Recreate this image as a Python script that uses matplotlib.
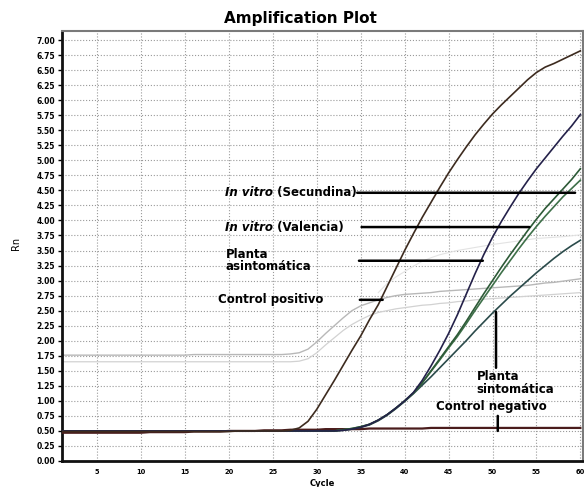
import matplotlib
matplotlib.use("Agg")
import matplotlib.pyplot as plt
import numpy as np

# Amplification plot (qPCR)
cycles = np.arange(1, 61)

# in vitro (Secundina) - earliest curve, dark brown
secundina = [0.49, 0.49, 0.49, 0.49, 0.49, 0.49, 0.49, 0.49, 0.49, 0.49,
             0.49, 0.49, 0.49, 0.49, 0.49, 0.49, 0.49, 0.49, 0.49, 0.49,
             0.50, 0.50, 0.50, 0.50, 0.50, 0.50, 0.51, 0.55, 0.66, 0.86,
             1.10, 1.34, 1.59, 1.84, 2.08, 2.35, 2.60, 2.90, 3.20, 3.50,
             3.78, 4.05, 4.30, 4.55, 4.79, 5.01, 5.22, 5.42, 5.60, 5.77,
             5.92, 6.06, 6.20, 6.34, 6.46, 6.55, 6.61, 6.68, 6.75, 6.82]

# in vitro (Valencia) - navy
valencia = [0.50, 0.50, 0.50, 0.50, 0.50, 0.50, 0.50, 0.50, 0.50, 0.50,
            0.50, 0.50, 0.50, 0.50, 0.50, 0.50, 0.50, 0.50, 0.50, 0.50,
            0.50, 0.50, 0.50, 0.50, 0.50, 0.50, 0.50, 0.50, 0.50, 0.50,
            0.50, 0.50, 0.51, 0.53, 0.56, 0.61, 0.68, 0.77, 0.88, 1.00,
            1.14, 1.34, 1.58, 1.84, 2.12, 2.43, 2.77, 3.11, 3.43, 3.72,
            3.98, 4.22, 4.45, 4.66, 4.86, 5.04, 5.22, 5.40, 5.57, 5.76]

# planta asintomatica - two green curves
asint_a = [0.50, 0.50, 0.50, 0.50, 0.50, 0.50, 0.50, 0.50, 0.50, 0.50,
           0.50, 0.50, 0.50, 0.50, 0.50, 0.50, 0.50, 0.50, 0.50, 0.50,
           0.50, 0.50, 0.50, 0.50, 0.50, 0.50, 0.50, 0.50, 0.50, 0.50,
           0.50, 0.50, 0.52, 0.54, 0.57, 0.61, 0.68, 0.77, 0.88, 1.00,
           1.13, 1.30, 1.50, 1.70, 1.90, 2.10, 2.32, 2.55, 2.78, 3.00,
           3.22, 3.43, 3.63, 3.83, 4.02, 4.20, 4.36, 4.52, 4.68, 4.86]
asint_b = [0.50, 0.50, 0.50, 0.50, 0.50, 0.50, 0.50, 0.50, 0.50, 0.50,
           0.50, 0.50, 0.50, 0.50, 0.50, 0.50, 0.50, 0.50, 0.50, 0.50,
           0.50, 0.50, 0.50, 0.50, 0.50, 0.50, 0.50, 0.50, 0.50, 0.50,
           0.50, 0.50, 0.52, 0.54, 0.57, 0.61, 0.68, 0.77, 0.88, 1.00,
           1.13, 1.30, 1.49, 1.68, 1.88, 2.07, 2.28, 2.50, 2.71, 2.92,
           3.13, 3.33, 3.53, 3.72, 3.90, 4.07, 4.23, 4.39, 4.53, 4.67]

# planta sintomatica - dark teal
sint = [0.50, 0.50, 0.50, 0.50, 0.50, 0.50, 0.50, 0.50, 0.50, 0.50,
        0.50, 0.50, 0.50, 0.50, 0.50, 0.50, 0.50, 0.50, 0.50, 0.50,
        0.50, 0.50, 0.50, 0.50, 0.50, 0.50, 0.50, 0.50, 0.50, 0.50,
        0.50, 0.50, 0.51, 0.53, 0.56, 0.60, 0.67, 0.76, 0.87, 0.99,
        1.12, 1.26, 1.40, 1.55, 1.70, 1.85, 2.00, 2.16, 2.31, 2.46,
        2.60, 2.74, 2.87, 3.00, 3.13, 3.25, 3.37, 3.48, 3.58, 3.67]

# control negativo - flat
negativo = [0.47, 0.47, 0.47, 0.47, 0.47, 0.47, 0.47, 0.47, 0.47, 0.47,
            0.48, 0.48, 0.48, 0.48, 0.48, 0.49, 0.49, 0.49, 0.49, 0.50,
            0.50, 0.50, 0.50, 0.51, 0.51, 0.51, 0.52, 0.52, 0.52, 0.52,
            0.53, 0.53, 0.53, 0.53, 0.53, 0.54, 0.54, 0.54, 0.54, 0.54,
            0.54, 0.54, 0.55, 0.55, 0.55, 0.55, 0.55, 0.55, 0.55, 0.55,
            0.55, 0.55, 0.55, 0.55, 0.55, 0.55, 0.55, 0.55, 0.55, 0.55]

# faint grey curves (control positivo overlay)
grey_a = [1.76, 1.76, 1.76, 1.76, 1.76, 1.76, 1.76, 1.76, 1.76, 1.76,
          1.76, 1.76, 1.76, 1.76, 1.76, 1.77, 1.77, 1.77, 1.77, 1.77,
          1.77, 1.77, 1.77, 1.77, 1.77, 1.77, 1.78, 1.80, 1.86, 1.98,
          2.12, 2.25, 2.38, 2.50, 2.58, 2.63, 2.68, 2.72, 2.75, 2.77,
          2.78, 2.79, 2.80, 2.82, 2.83, 2.84, 2.85, 2.86, 2.87, 2.88,
          2.89, 2.90, 2.91, 2.92, 2.94, 2.96, 2.97, 2.99, 3.01, 3.03]
grey_b = [1.65, 1.65, 1.65, 1.65, 1.65, 1.65, 1.65, 1.65, 1.65, 1.65,
          1.65, 1.65, 1.65, 1.65, 1.65, 1.65, 1.65, 1.65, 1.65, 1.65,
          1.65, 1.65, 1.65, 1.65, 1.65, 1.65, 1.65, 1.66, 1.70, 1.80,
          1.93, 2.05, 2.17, 2.27, 2.35, 2.42, 2.47, 2.50, 2.53, 2.55,
          2.57, 2.59, 2.60, 2.62, 2.63, 2.65, 2.66, 2.68, 2.69, 2.70,
          2.71, 2.72, 2.73, 2.74, 2.75, 2.76, 2.77, 2.78, 2.79, 2.80]
grey_c_cycles = [37, 38, 39, 40, 41, 42, 43, 44, 46, 48, 50, 52, 55, 58, 60]
grey_c = [2.80, 2.95, 3.06, 3.15, 3.24, 3.32, 3.38, 3.43, 3.50, 3.55,
          3.60, 3.64, 3.70, 3.73, 3.76]

fig = plt.figure(figsize=(5.84, 4.87), dpi=100)
fig.patch.set_facecolor("white")
ax = fig.add_axes([62 / 584, 26 / 487, 521 / 584, 430 / 487])

ax.plot(cycles, grey_a, color="#b8b8b8", lw=1.0, zorder=2)
ax.plot(cycles, grey_b, color="#d2d2d2", lw=0.9, zorder=2)
ax.plot(grey_c_cycles, grey_c, color="#e3e3e3", lw=0.8, zorder=2)

ax.plot(cycles, negativo, color="#4a1c1c", lw=1.6, zorder=3)
ax.plot(cycles, sint, color="#2b4b4b", lw=1.2, zorder=4)
ax.plot(cycles, asint_b, color="#3e7049", lw=1.2, zorder=4)
ax.plot(cycles, asint_a, color="#2d5a37", lw=1.2, zorder=4)
ax.plot(cycles, valencia, color="#24214a", lw=1.2, zorder=4)
ax.plot(cycles, secundina, color="#3d2b1f", lw=1.2, zorder=5)

ax.set_xlim(1, 60.3)
ax.set_ylim(0, 7.15)

yticks = np.arange(0, 7.01, 0.25)
ax.set_yticks(yticks)
ax.set_yticklabels([f"{v:.2f}" for v in yticks], fontsize=5.5, fontweight="bold")
ax.set_xticks(np.arange(5, 61, 5))
ax.set_xticklabels([str(v) for v in range(5, 61, 5)], fontsize=4.8, fontweight="bold")
ax.tick_params(axis="y", length=3, width=1, pad=2)
ax.tick_params(axis="x", length=0, pad=6)

ax.grid(True, linestyle=":", color="#9a9a9a", lw=0.8)
ax.set_axisbelow(True)

for side in ["left", "bottom"]:
    ax.spines[side].set_linewidth(2)
    ax.spines[side].set_color("#111111")
for side in ["top", "right"]:
    ax.spines[side].set_linewidth(1.5)
    ax.spines[side].set_color("#7a7a7a")

fig.text(0.514, 0.962, "Amplification Plot", fontsize=11, fontweight="bold",
         ha="center", va="center")
ax.set_xlabel("Cycle", fontsize=6, fontweight="bold", labelpad=3)
ax.set_ylabel("Rn", fontsize=7)
ax.yaxis.set_label_coords(-0.079, 0.507)

# labels with leader lines
fs = 8.5
t1 = ax.text(19.6, 4.46, "In vitro", fontsize=fs, fontweight="bold",
             fontstyle="italic", va="center", zorder=6)
ax.annotate(" (Secundina)", xy=(1, 0), xycoords=t1, va="bottom",
            fontsize=fs, fontweight="bold", zorder=6)
t2 = ax.text(19.6, 3.89, "In vitro", fontsize=fs, fontweight="bold",
             fontstyle="italic", va="center", zorder=6)
ax.annotate(" (Valencia)", xy=(1, 0), xycoords=t2, va="bottom",
            fontsize=fs, fontweight="bold", zorder=6)
ax.text(19.6, 3.33, "Planta\nasintomática", fontsize=fs, fontweight="bold",
        va="center", linespacing=0.95, zorder=6)
ax.text(18.7, 2.68, "Control positivo", fontsize=fs, fontweight="bold",
        va="center", zorder=6)
ax.text(48.2, 1.30, "Planta\nsintomática", fontsize=fs, fontweight="bold",
        va="center", linespacing=0.95, zorder=6)
ax.text(43.6, 0.90, "Control negativo", fontsize=fs, fontweight="bold",
        va="center", zorder=6)

leaders = [
    ((34.6, 4.46), (59.4, 4.46)),
    ((35.1, 3.89), (54.2, 3.89)),
    ((34.8, 3.33), (48.9, 3.33)),
    ((34.9, 2.68), (37.5, 2.68)),
    ((50.4, 2.48), (50.4, 1.55)),
    ((50.6, 0.75), (50.6, 0.50)),
]
for (xa, ya), (xb, yb) in leaders:
    ax.annotate("", xy=(xb, yb), xytext=(xa, ya),
                arrowprops=dict(arrowstyle="-", color="black", lw=1.8,
                                shrinkA=0, shrinkB=0), zorder=6)

fig.savefig("out.png", dpi=100)
